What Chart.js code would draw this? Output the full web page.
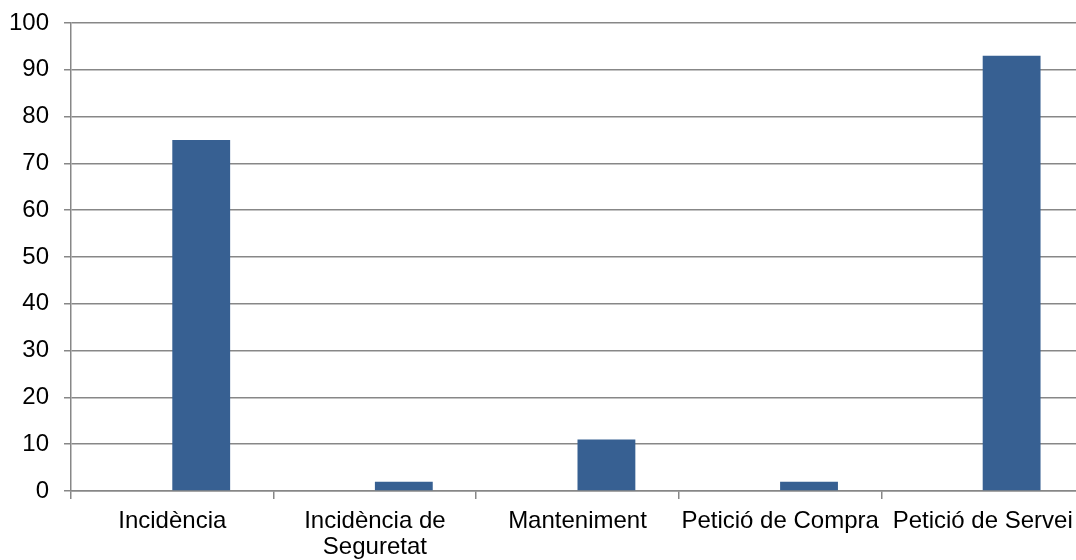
<!DOCTYPE html>
<html>
<head>
<meta charset="utf-8">
<script src="https://cdn.jsdelivr.net/npm/chart.js@4.4.1/dist/chart.umd.min.js"></script>
<style>
  html, body { margin: 0; padding: 0; background: #fff; overflow: hidden; }
  #wrap { width: 1076px; height: 560px; overflow: hidden; }
</style>
</head>
<body>
<div id="wrap"><canvas id="chart" width="1084" height="560"></canvas></div>
<script>
const categories = ['Incidència', ['Incidència de', 'Seguretat'], 'Manteniment', 'Petició de Compra', 'Petició de Servei'];
const emptySeries = [null, null, null, null, null];
const counts = [75, 2, 11, 2, 93];
const yTicks = [0, 10, 20, 30, 40, 50, 60, 70, 80, 90, 100];

const axisGray = '#878787';
const barBlue = '#376092';
const font = { family: '"Liberation Sans", Arial, sans-serif', size: 24, lineHeight: 1.1 };

const ctx = document.getElementById('chart').getContext('2d');
new Chart(ctx, {
    type: 'bar',
    data: {
        labels: categories,
        datasets: [
            { label: 'Sèrie 1', data: emptySeries, backgroundColor: barBlue },
            { label: 'Sèrie 2', data: counts, backgroundColor: barBlue }
        ]
    },
    options: {
        responsive: false,
        animation: false,
        categoryPercentage: 0.571,
        barPercentage: 1,
        layout: { padding: { top: 23, right: 0, bottom: 0, left: 0 } },
        plugins: {
            legend: { display: false },
            tooltip: { enabled: false }
        },
        scales: {
            x: {
                grid: {
                    offset: true,
                    drawOnChartArea: false,
                    drawTicks: true,
                    tickLength: 8,
                    color: axisGray,
                    lineWidth: 1.5
                },
                border: { color: axisGray, width: 1.5 },
                ticks: {
                    color: '#000',
                    font: font,
                    padding: 9,
                    maxRotation: 0,
                    autoSkip: false
                },
                afterFit: function(axis) {
                    axis.height = 69;
                    axis.paddingLeft = 0;
                    axis.paddingRight = 0;
                }
            },
            y: {
                min: 0,
                max: 100,
                afterBuildTicks: function(axis) {
                    axis.ticks = yTicks.map(v => ({ value: v }));
                },
                grid: {
                    color: axisGray,
                    lineWidth: 1.5,
                    drawTicks: true,
                    tickLength: 7
                },
                border: { color: axisGray, width: 1.5 },
                ticks: {
                    color: '#000',
                    font: font,
                    padding: 15
                },
                afterFit: function(axis) {
                    axis.width = 71;
                    axis.paddingTop = 0;
                    axis.paddingBottom = 0;
                }
            }
        }
    }
});
</script>
</body>
</html>
